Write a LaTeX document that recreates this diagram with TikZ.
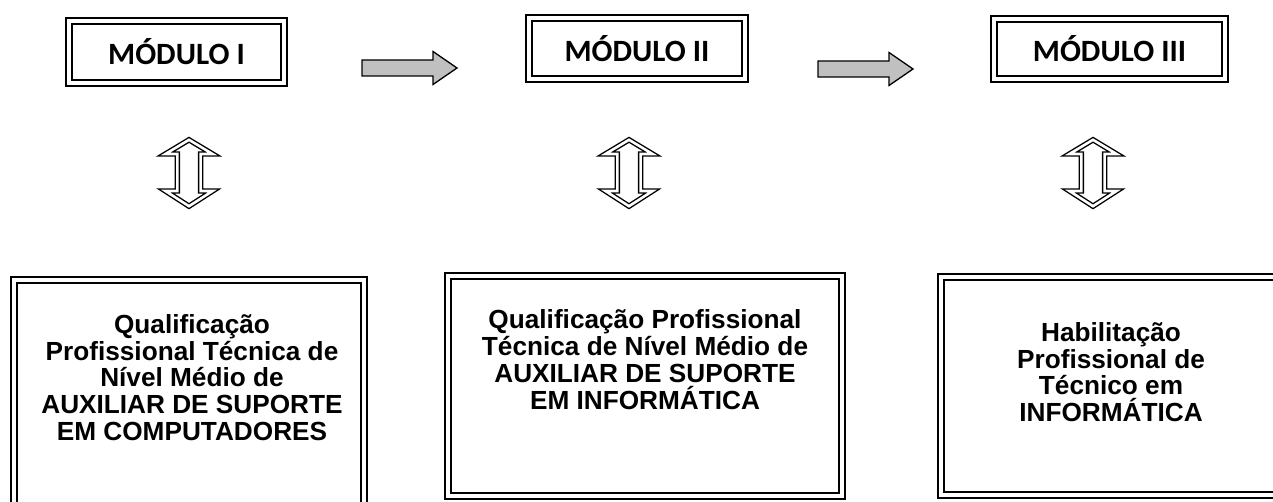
\documentclass[tikz,border=0pt]{standalone}
\usepackage{fontspec}
\setmainfont{Liberation Sans}
\newfontfamily\carlito{Carlito}
\definecolor{arrowgray}{HTML}{C0C0C0}
\newcommand\innerframe[1]{\draw[innerln] ([shift={(6,6)}]#1.north west) rectangle ([shift={(-6,-6)}]#1.south east);}
\begin{document}
\begin{tikzpicture}[x=1pt,y=-1pt,
  outerln/.style={draw, line width=1.6pt, inner sep=0pt, outer sep=0pt},
  innerln/.style={line width=2.8pt},
  modbox/.style={outerln, font=\carlito\bfseries\fontsize{31}{34}\selectfont},
  boxtext/.style={align=center, inner sep=0pt, anchor=north, font=\bfseries\fontsize{26.2}{26.9}\selectfont},
  grayarrow/.style={draw, line width=1.3pt, fill=arrowgray, line join=miter},
  updown/.style={draw, line width=1.4pt, double=white, double distance=2.6pt, line join=miter},
]
\useasboundingbox (0,0) rectangle (1273,502);
\clip (0,0) rectangle (1273,502);

% module boxes
\node[modbox, minimum width=221pt, minimum height=68pt] (m1) at (176.5,52) {MÓDULO I};
\innerframe{m1}
\node[modbox, minimum width=222pt, minimum height=67pt] (m2) at (637,48.5) {MÓDULO II};
\innerframe{m2}
\node[modbox, minimum width=237pt, minimum height=66pt] (m3) at (1109.5,49) {MÓDULO III};
\innerframe{m3}

% grey arrows
\coordinate (g1) at (362,68);
\coordinate (g2) at (818,69);
\foreach \g in {g1,g2}{
  \draw[grayarrow] (\g) ++(0,-8) -- ++(71,0) -- ++(0,-8.5) -- ++(24,16.5) -- ++(-24,16.5) -- ++(0,-8.5) -- ++(-71,0) -- cycle;
}

% up-down arrows
\coordinate (d1) at (189,173);
\coordinate (d2) at (629,173);
\coordinate (d3) at (1093,173);
\foreach \d in {d1,d2,d3}{
  \draw[updown, shift={(\d)}] (0,-33.2) -- (-23.6,-19) -- (-11.6,-19) -- (-11.6,18) -- (-23.6,18) -- (0,33.2) -- (23.6,18) -- (11.6,18) -- (11.6,-19) -- (23.6,-19) -- cycle;
}

% bottom boxes
\node[outerln, minimum width=356pt, minimum height=248pt] (b1) at (189,401) {};
\innerframe{b1}
\node[outerln, minimum width=400pt, minimum height=226pt] (b2) at (645,386) {};
\innerframe{b2}
\node[outerln, minimum width=346pt, minimum height=224pt] (b3) at (1111,386) {};
\innerframe{b3}

\node[boxtext] (t1) at (192,314) {Qualificação\\Profissional Técnica de\\Nível Médio de\\AUXILIAR DE SUPORTE\\EM COMPUTADORES};
\node[boxtext] (t2) at (645,309.5) {Qualificação Profissional\\Técnica de Nível Médio de\\AUXILIAR DE SUPORTE\\EM INFORMÁTICA};
\node[boxtext] (t3) at (1111,322) {Habilitação\\Profissional de\\Técnico em\\INFORMÁTICA};
\end{tikzpicture}
\end{document}
